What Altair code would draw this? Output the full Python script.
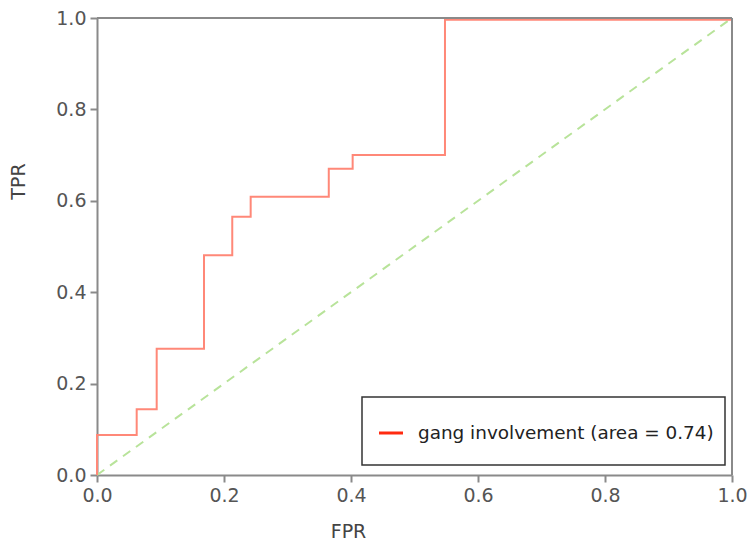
import altair as alt
import pandas as pd

# ROC curve step points (FPR, TPR)
fpr = [0.0, 0.0, 0.0625, 0.0625, 0.094, 0.094, 0.1685, 0.1685, 0.213, 0.213,
       0.242, 0.242, 0.365, 0.365, 0.4026, 0.4026, 0.548, 0.548, 1.0, 1.0]
tpr = [0.0, 0.0875, 0.0875, 0.144, 0.144, 0.276, 0.276, 0.481, 0.481, 0.565,
       0.565, 0.609, 0.609, 0.670, 0.670, 0.700, 0.700, 0.996, 0.996, 1.0]
diag_x = [0.0, 1.0]
diag_y = [0.0, 1.0]
legend_label = "gang involvement (area = 0.74)"
ticks = [0.0, 0.2, 0.4, 0.6, 0.8, 1.0]

roc = pd.DataFrame({"FPR": fpr, "TPR": tpr, "order": list(range(len(fpr)))})
diag = pd.DataFrame({"FPR": diag_x, "TPR": diag_y})
leg = pd.DataFrame({"label": [legend_label]})

W, H = 635, 457
FONT = "DejaVu Sans"

xscale = alt.Scale(domain=[0, 1], nice=False, zero=False)
yscale = alt.Scale(domain=[0, 1], nice=False, zero=False)

xaxis = alt.Axis(values=ticks, format=".1f", title="FPR", grid=False, labelFlush=False,
                 titleX=251, titleY=62, titleBaseline="alphabetic")
yaxis = alt.Axis(values=ticks, format=".1f", title="TPR", grid=False, labelFlush=False,
                 titleY=163, titleX=-73, titleAngle=-90, titleBaseline="alphabetic")

diag_line = alt.Chart(diag).mark_line(
    color="#b8e39a", strokeWidth=2, strokeDash=[9, 7]
).encode(
    x=alt.X("FPR:Q", scale=xscale, axis=xaxis),
    y=alt.Y("TPR:Q", scale=yscale, axis=yaxis),
)

roc_line = alt.Chart(roc).mark_line(
    color="#ff8878", strokeWidth=2, interpolate="linear"
).encode(
    x=alt.X("FPR:Q", scale=xscale),
    y=alt.Y("TPR:Q", scale=yscale),
    order="order:Q",
)

# top & right spines
top_rule = alt.Chart(leg).mark_rule(color="#8a8a8a", strokeWidth=2).encode(
    x=alt.value(0), x2=alt.value(W), y=alt.value(0)
)
right_rule = alt.Chart(leg).mark_rule(color="#8a8a8a", strokeWidth=2).encode(
    x=alt.value(W), y=alt.value(0), y2=alt.value(H)
)

legend_box = alt.Chart(leg).mark_rect(
    fill="white", stroke="#333333", strokeWidth=1.5
).encode(
    x=alt.value(265), x2=alt.value(628), y=alt.value(379), y2=alt.value(447)
)
legend_sym = alt.Chart(leg).mark_rule(color="#ff2a10", strokeWidth=3).encode(
    x=alt.value(282), x2=alt.value(306), y=alt.value(415)
)
legend_txt = alt.Chart(leg).mark_text(
    align="left", baseline="middle", font=FONT, fontSize=18.4, color="#222222"
).encode(
    x=alt.value(321), y=alt.value(415), text="label:N"
)

chart = alt.layer(
    diag_line, roc_line, top_rule, right_rule, legend_box, legend_sym, legend_txt
).properties(
    width=W, height=H,
    autosize=alt.AutoSizeParams(type="none"),
    padding={"left": 97, "top": 18, "right": 17, "bottom": 67},
    background="white",
).configure_view(
    stroke=None
).configure_axis(
    domainColor="#8a8a8a", domainWidth=2,
    tickColor="#8a8a8a", tickWidth=2, tickSize=7,
    labelFont=FONT, labelFontSize=19, labelColor="#555555", labelPadding=4,
    titleFont=FONT, titleFontSize=19, titleColor="#444444", titleFontWeight="normal",
)

chart.save("out.html", embed_options={"renderer": "svg", "actions": False})
